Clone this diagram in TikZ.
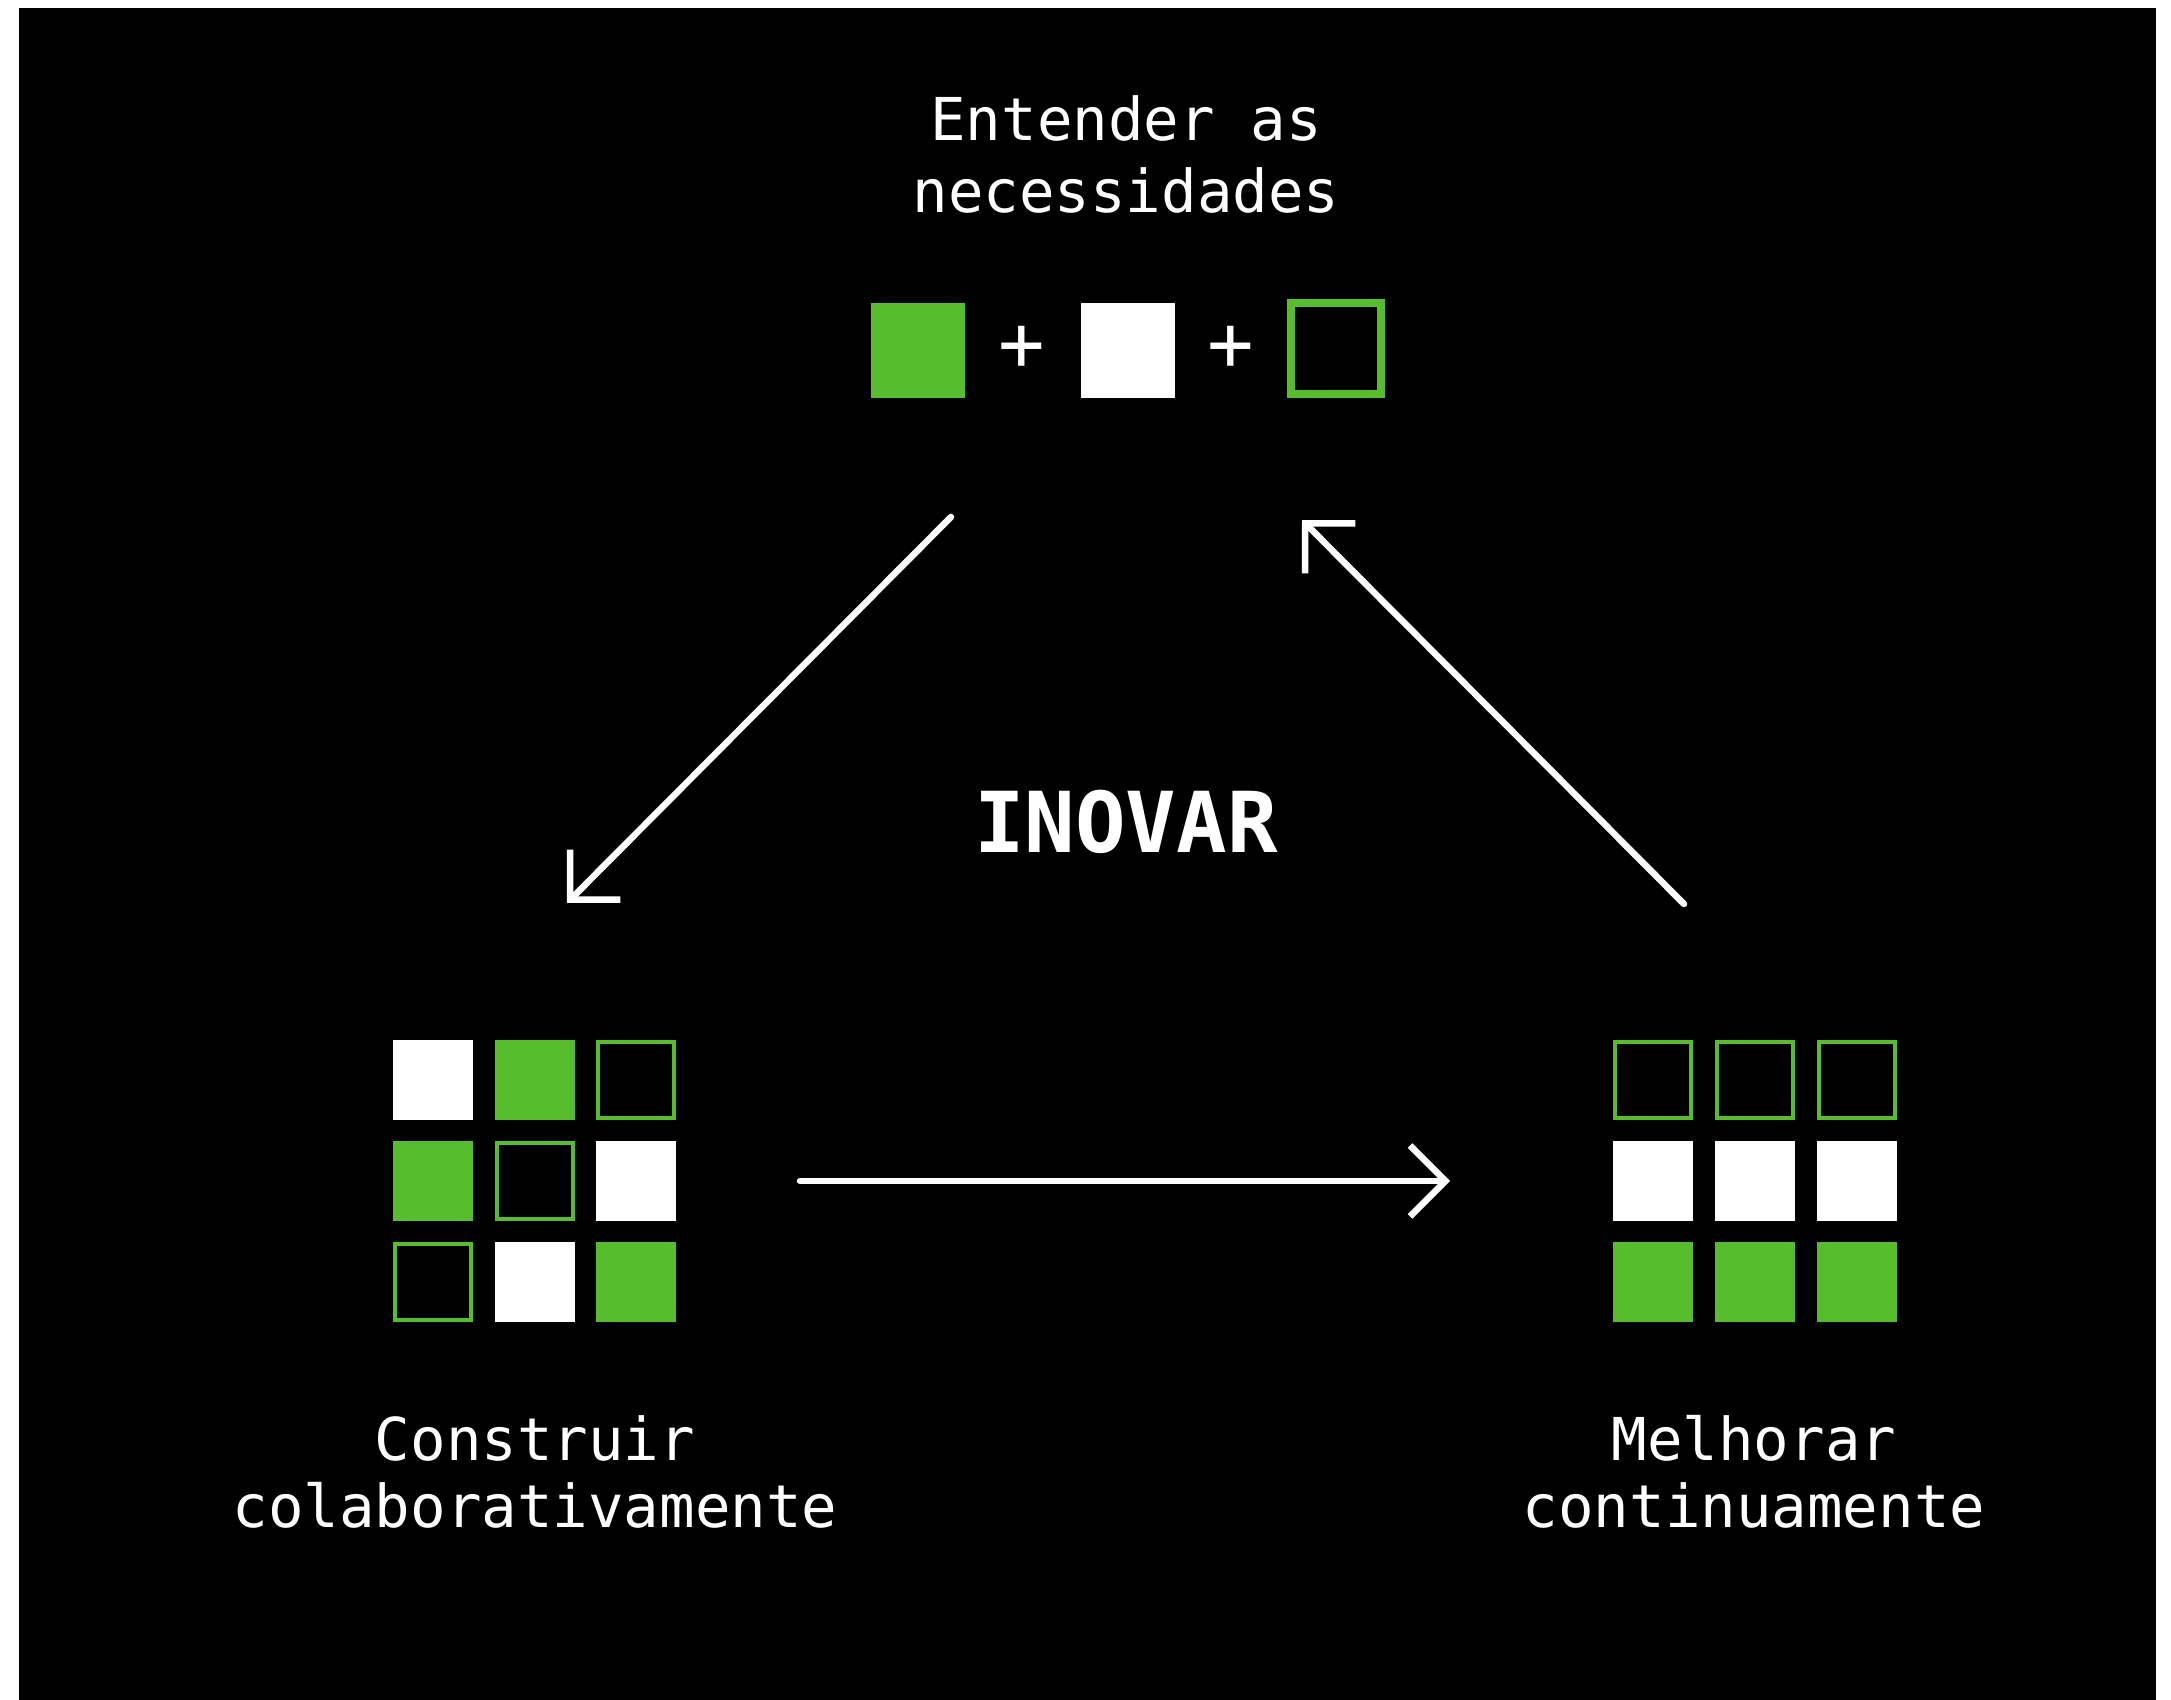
\documentclass[tikz,border=0pt]{standalone}
\usepackage{fontspec}
\newfontfamily\labelfont{DejaVu Sans Mono}
\usetikzlibrary{arrows.meta}
\definecolor{leafgreen}{HTML}{56BE2D}

\begin{document}
\begin{tikzpicture}[x=0.01cm,y=-0.01cm,
  filled/.style={fill=leafgreen,minimum size=0.8cm,inner sep=0pt},
  blank/.style={fill=white,minimum size=0.8cm,inner sep=0pt},
  hollow/.style={draw=leafgreen,line width=0.04cm,minimum size=0.76cm,inner sep=0pt},
  caption/.style={text=white,align=center,font=\labelfont\fontsize{16.8}{20.5}\selectfont},
  flow/.style={draw=white,line width=0.065cm,line cap=round,-{Straight Barb[angle=90:0.5cm,sharp]}}]
 \fill[white] (0,0) rectangle (2171,1700);
 \fill[black] (19,8) rectangle (2156,1700);
 \useasboundingbox (0,0) rectangle (2171,1700);
 % top: entender as necessidades
 \node[caption,anchor=base] (need) at (1126,213) {Entender as\\necessidades};
 \node[filled,minimum width=0.94cm,minimum height=0.95cm] (topg) at (918,350.5) {};
 \node[text=white,font=\labelfont\fontsize{22}{24}\selectfont] (plusa) at (1021.5,348) {+};
 \node[blank,minimum width=0.94cm,minimum height=0.95cm] (topw) at (1128,350.5) {};
 \node[text=white,font=\labelfont\fontsize{22}{24}\selectfont] (plusb) at (1231,348) {+};
 \node[hollow,line width=0.08cm,minimum width=0.90cm,minimum height=0.91cm] (topo) at (1336,348.5) {};
 % centre
 \node[text=white,font=\labelfont\bfseries\fontsize{23.9}{28}\selectfont] (core) at (1126,822) {INOVAR};
 % left grid: construir
 \node[blank]  (la) at (433,1080) {};
 \node[filled] (lb) at (535,1080) {};
 \node[hollow] (lc) at (636,1080) {};
 \node[filled] (ld) at (433,1181) {};
 \node[hollow] (le) at (535,1181) {};
 \node[blank]  (lf) at (636,1181) {};
 \node[hollow] (lg) at (433,1282) {};
 \node[blank]  (lh) at (535,1282) {};
 \node[filled] (li) at (636,1282) {};
 \node[caption,anchor=base,font=\labelfont\fontsize{16.8}{19}\selectfont] (build) at (535,1527) {Construir\\colaborativamente};
 % right grid: melhorar
 \node[hollow] (ra) at (1653,1080) {};
 \node[hollow] (rb) at (1755,1080) {};
 \node[hollow] (rc) at (1857,1080) {};
 \node[blank]  (rd) at (1653,1181) {};
 \node[blank]  (re) at (1755,1181) {};
 \node[blank]  (rf) at (1857,1181) {};
 \node[filled] (rg) at (1653,1282) {};
 \node[filled] (rh) at (1755,1282) {};
 \node[filled] (ri) at (1857,1282) {};
 \node[caption,anchor=base,font=\labelfont\fontsize{16.8}{19}\selectfont] (improve) at (1754,1527) {Melhorar\\continuamente};
 % arrows
 \coordinate (downstart) at (951,517);
 \coordinate (downend) at (567,903);
 \coordinate (acrossstart) at (800,1181);
 \coordinate (acrossend) at (1450,1181);
 \coordinate (upstart) at (1684,904);
 \coordinate (upend) at (1302,520);
 \draw[flow] (downstart) -- (downend);
 \draw[flow] (acrossstart) -- (acrossend);
 \draw[flow] (upstart) -- (upend);
\end{tikzpicture}
\end{document}
